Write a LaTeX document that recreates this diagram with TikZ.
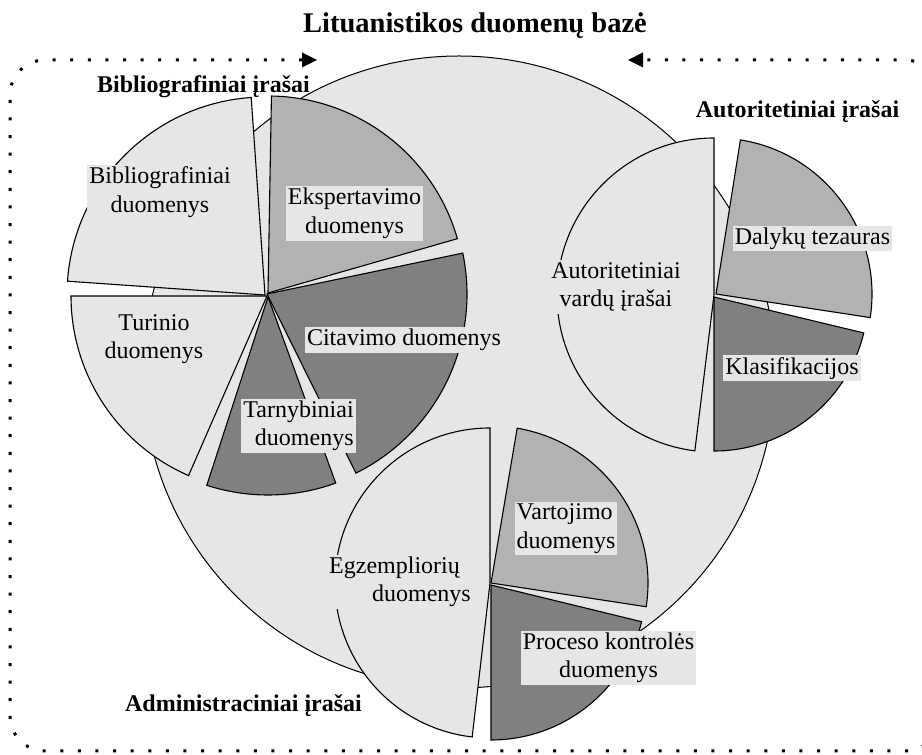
\documentclass[tikz,border=0pt]{standalone}
\usepackage{fontspec}
\setmainfont{Liberation Serif}
\definecolor{lightg}{RGB}{230,230,230}
\definecolor{midg}{RGB}{178,178,178}
\definecolor{darkg}{RGB}{128,128,128}
\tikzset{
  slice/.style={draw=black, line width=1.1pt, line join=miter},
  bigdisc/.style={draw=black, line width=1pt, fill=lightg},
  lab/.style={fill=lightg, inner xsep=2pt, inner ysep=2pt, font=\fontsize{24}{28.5}\selectfont, align=center},
  grp/.style={font=\fontsize{24}{28}\selectfont\bfseries, anchor=base, inner sep=0pt},
  ttl/.style={font=\fontsize{28.5}{32}\selectfont\bfseries, anchor=base, inner sep=0pt},
  border/.style={line width=3pt, dash pattern=on 3pt off 14.6pt, rounded corners=35pt},
  tip/.style={fill=black},
}
\newcommand\mysector[5]{\filldraw[slice,fill=#1] (#2) -- ++(#3:#5) arc[start angle=#3,end angle=#4,radius=#5] -- cycle;}
\begin{document}
\begin{tikzpicture}[x=1pt,y=1pt]
\useasboundingbox (0,0) rectangle (922,755);
\clip (0,0) rectangle (922,755);
% background disc
\draw[bigdisc] (459,383) circle[radius=316];
% bibliographic pie
\mysector{lightg}{265,460}{94}{176}{198}
\mysector{midg}{268,462}{16}{89}{197}
\mysector{darkg}{267,461}{-63.6}{11.8}{200}
\mysector{darkg}{268,458}{-108}{-70}{198}
\mysector{lightg}{267,459}{180}{246.4}{196}
% authority pie
\mysector{lightg}{714,460}{90}{263}{157}
\mysector{midg}{716,461}{-8.7}{81}{156}
\mysector{darkg}{714,458}{-90}{-13.5}{154}
% administrative pie
\mysector{lightg}{490,172}{90}{263.4}{155}
\mysector{midg}{491,172}{-8.7}{80.4}{157}
\mysector{darkg}{491,170}{-90}{-13.7}{155}
% slice labels
\node[lab] (bibd) at (160,563) {Bibliografiniai\\duomenys};
\node[lab] (eksp) at (354.5,541.5) {Ekspertavimo\\duomenys};
\node[lab] (turi) at (154,416) {Turinio\\duomenys};
\node[lab,align=right] (tarn) at (298.5,329) {Tarnybiniai\\duomenys};
\node[lab] (cita) at (404,415) {Citavimo duomenys};
\node[lab] (autv) at (616,468) {Autoritetiniai\\vardų įrašai};
\node[lab] (daly) at (812.5,516.5) {Dalykų tezauras};
\node[lab] (klas) at (792,386.5) {Klasifikacijos};
\node[lab,align=right] (egz) at (400,173) {Egzempliorių\hspace*{11pt}\\duomenys};
\node[lab,align=left] (vart) at (566,226.5) {Vartojimo\\duomenys};
\node[lab] (proc) at (608.5,97) {Proceso kontrolės\\duomenys};
% group labels and title
\node[ttl] (title) at (475,722) {Lituanistikos duomenų bazė};
\node[grp] (gbib) at (203.5,662) {Bibliografiniai įrašai};
\node[grp] (gaut) at (797.5,637) {Autoritetiniai įrašai};
\node[grp] (gadm) at (243.5,43) {Administraciniai įrašai};
% dotted cycle border
\coordinate (bstart) at (302,695);
\coordinate (bend) at (643,695);
\draw[border] (bstart) -- (10,695) -- (10,4) -- (940,4) -- (940,695) -- (bend);
\fill[tip] (317,695) -- (302,702.5) -- (302,687.5) -- cycle;
\fill[tip] (628,695) -- (643,702.5) -- (643,687.5) -- cycle;
\end{tikzpicture}
\end{document}
